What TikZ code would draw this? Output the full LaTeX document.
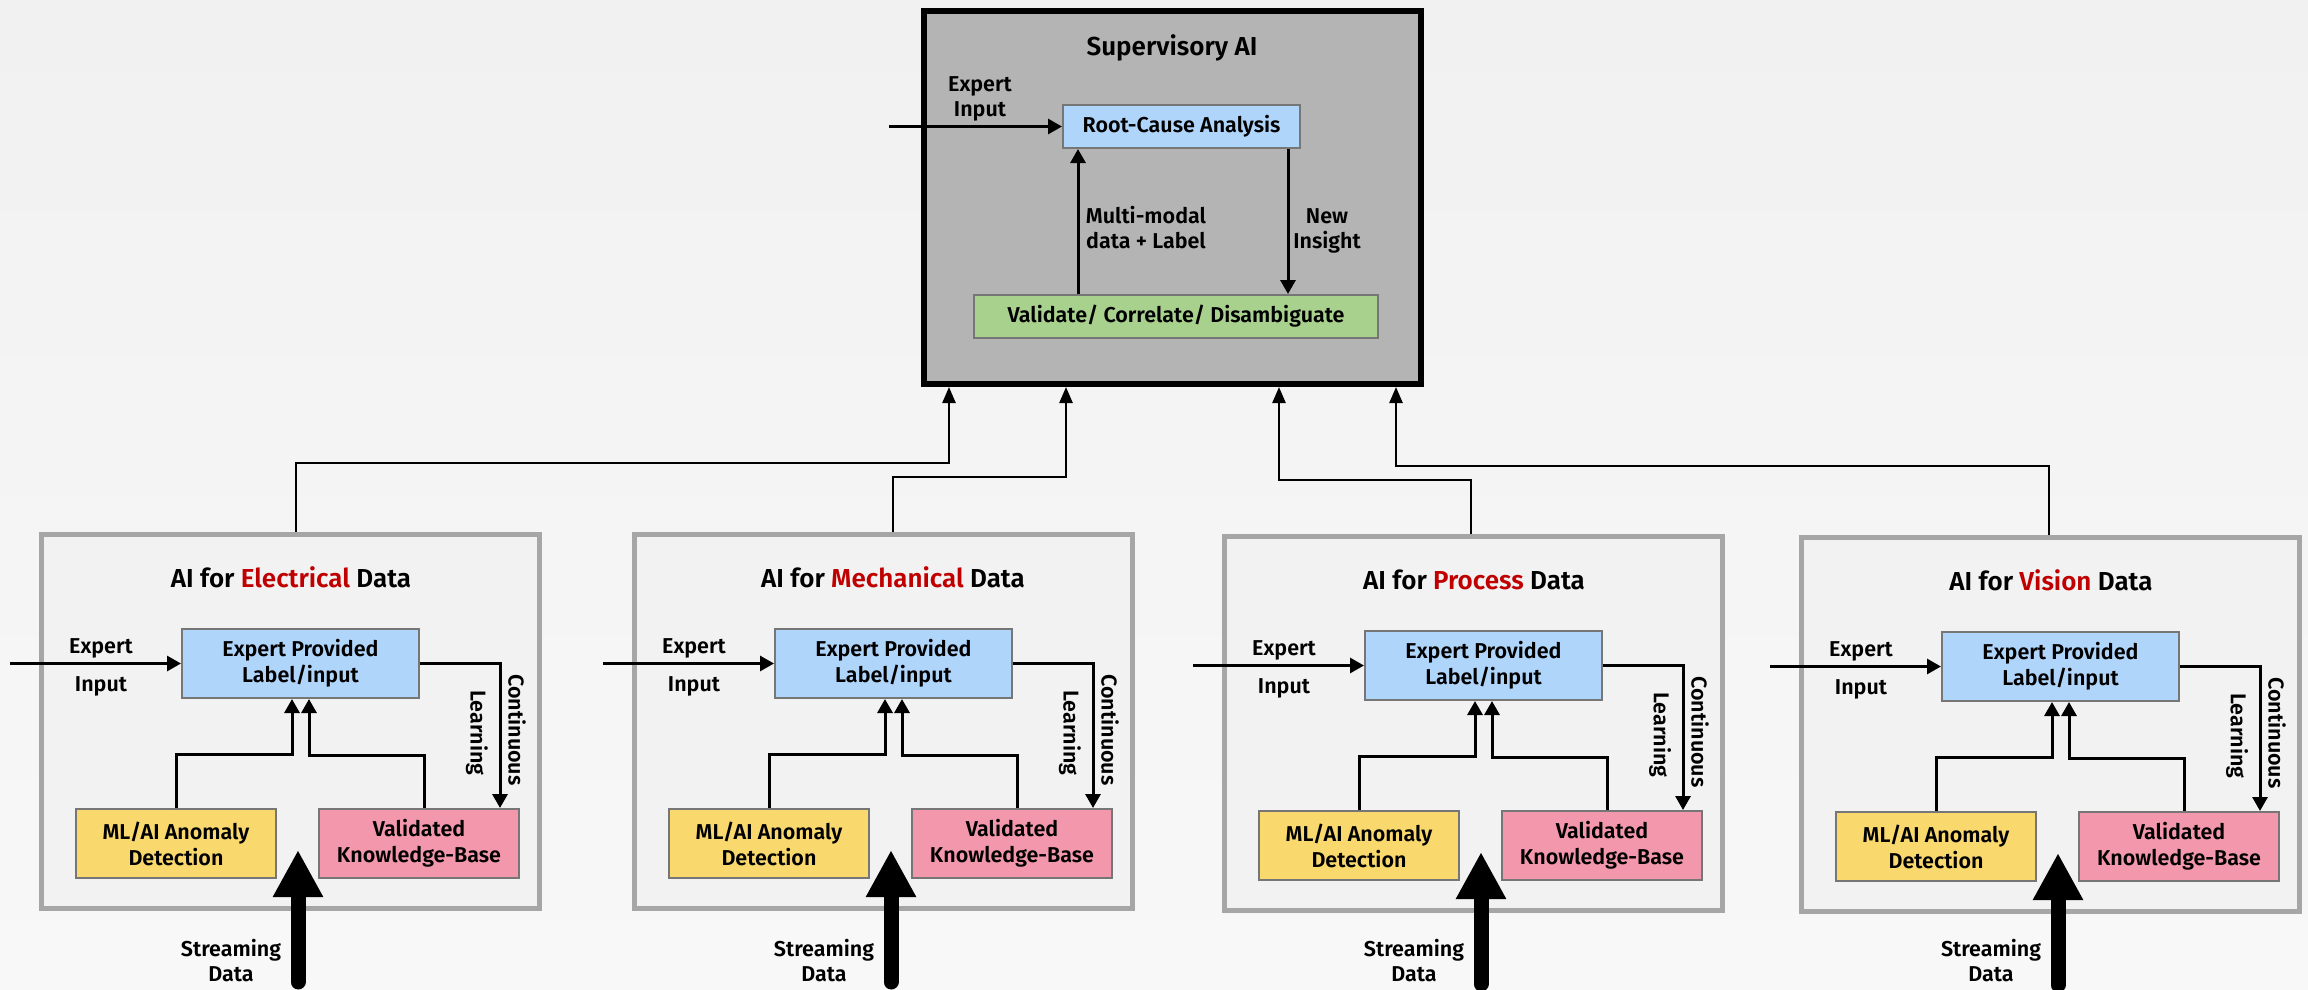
\documentclass[tikz,border=0pt]{standalone}
\usepackage{fontspec}
\setmainfont{Fira Sans}[UprightFont={* SemiBold}, BoldFont={* Bold}]
\usetikzlibrary{arrows.meta}

\definecolor{bgtop}{HTML}{F1F1F1}
\definecolor{bgbot}{HTML}{F8F8F8}
\definecolor{modfill}{HTML}{F2F2F2}
\definecolor{modline}{HTML}{A6A6A6}
\definecolor{supfill}{HTML}{B4B4B4}
\definecolor{boxline}{HTML}{767676}
\definecolor{lblue}{HTML}{B0D5FB}
\definecolor{lyellow}{HTML}{F9D86E}
\definecolor{lpink}{HTML}{F397AC}
\definecolor{lgreen}{HTML}{A9D18E}
\definecolor{titlered}{HTML}{C00000}

\tikzset{
  txt/.style={font=\fontsize{21.5}{25}\selectfont, inner sep=0pt},
  inbox/.style={draw=boxline, line width=2pt, align=center, inner sep=0pt,
    font=\fontsize{21.5}{26}\selectfont},
  modbox/.style={draw=modline, fill=modfill, line width=5pt,
    minimum width=498pt, minimum height=374pt, inner sep=0pt},
  supbox/.style={draw=black, fill=supfill, line width=6pt,
    minimum width=497pt, minimum height=373pt, inner sep=0pt},
  modtitle/.style={font=\fontsize{26}{30}\selectfont, inner sep=0pt},
  link/.style={line width=3pt, -{Triangle[width=15pt,length=14pt]}},
  feed/.style={line width=2.5pt, -{Triangle[width=13pt,length=16pt]}},
  stream/.style={line width=15pt, line cap=round, -{Triangle[width=47pt,length=47pt]}},
}

% One "AI for ... Data" module: #1 name prefix, #2/#3 shift, #4 domain word, #5 title offset
\newcommand\aimodule[5]{%
\begin{scope}[shift={(#2,#3)}]
  \node[modbox] (#1box) at (290.5,721.5) {};
  \node[modtitle, anchor=base] (#1title) at (291+#5,587) {AI for \textcolor{titlered}{#4} Data};
  \node[inbox, fill=lblue, minimum width=237pt, minimum height=69pt] (#1lab) at (300.5,663.5) {Expert Provided\\Label/input};
  \node[inbox, fill=lyellow, minimum width=200pt, minimum height=69pt] (#1det) at (176,843.5) {ML/AI Anomaly\\Detection};
  \node[inbox, fill=lpink, minimum width=200pt, minimum height=69pt] (#1kb) at (419,843.5) {Validated\\Knowledge-Base};
  \node[txt, anchor=base] (#1ex1) at (101,653) {Expert};
  \node[txt, anchor=base] (#1ex2) at (101,691) {Input};
  \node[txt, rotate=-90] (#1cl1) at (517,730) {Continuous};
  \node[txt, rotate=-90] (#1cl2) at (477,733) {Learning};
  \node[txt, align=center] (#1sd) at (231,961-#3) {Streaming\\Data};
  \coordinate (#1src) at (10,663.5);
  \coordinate (#1sb) at (298,982);
  \coordinate (#1st) at (298,850);
  \draw[link] (#1src) -- (#1lab.west);
  \draw[link] (#1lab.east) -| (#1kb.north -| 500,0);
  \draw[link] (#1det.north) |- (292,754) -- (#1lab.south -| 292,0);
  \draw[link] (#1kb.north -| 424,0) |- (309,755) -- (#1lab.south -| 309,0);
  \draw[stream] (#1sb) -- (#1st);
\end{scope}}

\begin{document}
\begin{tikzpicture}[x=1pt, y=-1pt]
  \shade[top color=bgtop, bottom color=bgbot] (0,0) rectangle (2308,989);
  \useasboundingbox (0,0) rectangle (2308,989);

  % supervisory layer
  \node[supbox] (sup) at (1172.5,197.5) {};
  \node[modtitle, anchor=base] (supt) at (1172,55) {Supervisory AI};
  \node[inbox, fill=lblue, minimum width=237pt, minimum height=43pt] (rca) at (1181.5,126.5) {Root-Cause Analysis};
  \node[inbox, fill=lgreen, minimum width=404pt, minimum height=43pt] (vcd) at (1176,316.5) {Validate/ Correlate/ Disambiguate};
  \coordinate (supsrc) at (889,126.5);
  \node[txt, anchor=base] (supex1) at (980,91) {Expert};
  \node[txt, anchor=base] (supex2) at (980,116) {Input};
  \draw[link] (supsrc) -- (rca.west);
  \draw[link] (vcd.north -| 1078,0) -- (rca.south -| 1078,0);
  \draw[link] (rca.south -| 1288,0) -- (vcd.north -| 1288,0);
  \node[txt, align=center] (mm) at (1146,228) {Multi-modal\\data + Label};
  \node[txt, align=center] (ni) at (1327,231) {New\\Insight};

  % domain modules
  \aimodule{el}{0}{0}{Electrical}{0}
  \aimodule{me}{593}{0}{Mechanical}{9}
  \aimodule{pr}{1183}{2}{Process}{0}
  \aimodule{vi}{1760}{3}{Vision}{0}

  % feeds from the modules up to the supervisory layer
  \draw[feed] (elbox.north -| 296,0) |- (949,463) -- (sup.south -| 949,0);
  \draw[feed] (mebox.north -| 893,0) |- (1066,477) -- (sup.south -| 1066,0);
  \draw[feed] (prbox.north -| 1471,0) |- (1279,480) -- (sup.south -| 1279,0);
  \draw[feed] (vibox.north -| 2049,0) |- (1396,466) -- (sup.south -| 1396,0);
\end{tikzpicture}
\end{document}
